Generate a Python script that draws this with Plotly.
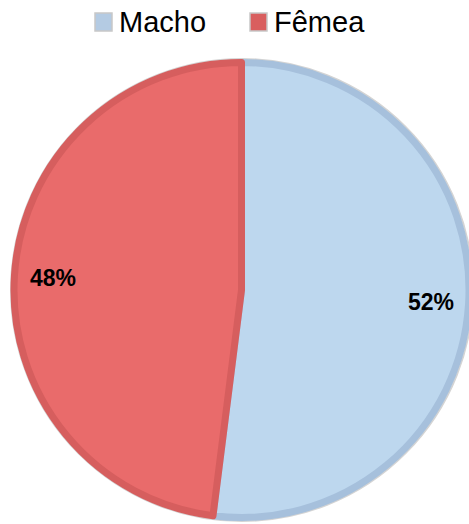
import math
import plotly.graph_objects as go

labels = ["Macho", "Fêmea"]
values = [52, 48]
fill_colors = ["#BDD7EE", "#E96B6B"]
edge_colors = ["#A6C0DC", "#D65E5E"]
legend_colors = ["#B4CBE3", "#D95F5F"]

W, H = 469, 524
cx, cy, r = 242, 290, 228
FONT = "Liberation Sans, Arial, sans-serif"

fig = go.Figure()

# faint gray outer rim
fig.add_shape(type="circle", xref="paper", yref="paper", layer="below",
              x0=(cx - r - 3) / W, x1=(cx + r + 3) / W,
              y0=1 - (cy + r + 3) / H, y1=1 - (cy - r - 3) / H,
              line=dict(color="#D4D4D4", width=2), fillcolor="rgba(0,0,0,0)")

fig.add_trace(go.Pie(
    labels=labels, values=values, sort=False, direction="clockwise", rotation=0,
    marker=dict(colors=fill_colors, line=dict(color=edge_colors, width=7)),
    textinfo="none", hoverinfo="label+percent", showlegend=False,
    domain=dict(x=[(cx - r) / W, min(1, (cx + r) / W)], y=[1 - (cy + r) / H, 1 - (cy - r) / H]),
))

# percentage labels placed at mid-angle of each slice
total = sum(values)
start = 0.0
for v in values:
    mid = start + v / total * 360 / 2
    start += v / total * 360
    rr = 0.83 * r
    px = cx + rr * math.sin(math.radians(mid))
    py = cy - rr * math.cos(math.radians(mid))
    fig.add_annotation(x=px / W, y=1 - py / H, xref="paper", yref="paper",
                       xanchor="center", yanchor="middle",
                       text=f"<b>{round(v / total * 100)}%</b>", showarrow=False,
                       font=dict(family=FONT, size=23, color="black"))

# legend drawn from the labels
legend_x = [95, 250]
ly = 22
for lab, col, lx in zip(labels, legend_colors, legend_x):
    fig.add_shape(type="rect", xref="paper", yref="paper",
                  x0=lx / W, x1=(lx + 17) / W, y0=1 - (ly + 9) / H, y1=1 - (ly - 9) / H,
                  fillcolor=col, line=dict(color="#C8C8C8", width=1.5))
    fig.add_annotation(x=(lx + 22) / W, y=1 - ly / H, xref="paper", yref="paper",
                       xanchor="left", yanchor="middle", text=lab, showarrow=False,
                       font=dict(family=FONT, size=29, color="black"))

fig.update_layout(
    width=W, height=H, margin=dict(l=0, r=0, t=0, b=0),
    paper_bgcolor="white", plot_bgcolor="white",
)
fig.write_html("out.html", config={"displayModeBar": False},
               post_script="document.body.style.margin='0';")
